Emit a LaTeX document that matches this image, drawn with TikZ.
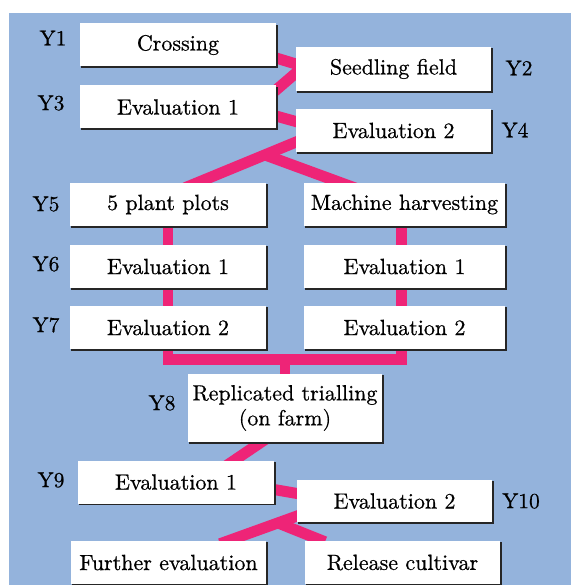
\documentclass[tikz,border=0pt]{standalone}
\usepackage{fontspec}
\setmainfont{lmroman10-regular.otf}[FakeBold=0.6]
\usetikzlibrary{calc,backgrounds}
\definecolor{bgblue}{RGB}{148,179,220}
\definecolor{linkpink}{RGB}{238,36,119}
\pgfdeclarelayer{links}
\pgfsetlayers{background,links,main}
\begin{document}
\begin{tikzpicture}[x=1pt,y=-1pt,
  box/.style={fill=white, minimum width=196pt, minimum height=43pt, inner sep=0pt, font=\fontsize{22}{25}\selectfont},
  ylab/.style={font=\fontsize{21.5}{24}\selectfont, inner sep=0pt},
  link/.style={draw=linkpink, line width=11pt},
  bar/.style={draw=linkpink, line width=10.5pt, line join=miter},
  boxshadow/.style={fill=black!85}]
\useasboundingbox (0,0) rectangle (571,585);
\begin{pgfonlayer}{background}
  \fill[bgblue] (9,13) rectangle (571,585);
\end{pgfonlayer}

\node[box] (cross) at (178,45) {Crossing};
\node[box, minimum width=195pt, minimum height=44pt] (seed) at (393.5,69) {Seedling field};
\node[box] (ev1a) at (178,107) {Evaluation 1};
\node[box, minimum width=195pt] (ev2a) at (393.5,130.5) {Evaluation 2};
\node[box] (plots) at (168,204.5) {5 plant plots};
\node[box, minimum width=201pt] (mach) at (404.5,204.5) {Machine harvesting};
\node[box] (ev1l) at (168,266.5) {Evaluation 1};
\node[box, minimum width=201pt] (ev1r) at (404.5,266.5) {Evaluation 1};
\node[box] (ev2l) at (168,327.5) {Evaluation 2};
\node[box, minimum width=201pt] (ev2r) at (404.5,327.5) {Evaluation 2};
\node[box, minimum width=194pt, minimum height=68pt, align=center] (rep) at (285,408) {Replicated trialling\\(on farm)};
\node[box] (ev1b) at (176,482) {Evaluation 1};
\node[box, minimum width=195pt, minimum height=42pt] (ev2b) at (394.5,501) {Evaluation 2};
\node[box, minimum width=195pt] (fur) at (168.5,562.5) {Further evaluation};
\node[box, minimum width=195pt] (rel) at (402.5,562.5) {Release cultivar};

\node[ylab] (y1) at (53,38) {Y1};
\node[ylab] (y2) at (519,68) {Y2};
\node[ylab] (y3) at (51,103) {Y3};
\node[ylab] (y4) at (515,130) {Y4};
\node[ylab] (y5) at (46,204) {Y5};
\node[ylab] (y6) at (46,264) {Y6};
\node[ylab] (y7) at (46,325) {Y7};
\node[ylab] (y8) at (162,403) {Y8};
\node[ylab] (y9) at (51,480) {Y9};
\node[ylab] (y10) at (521,501) {Y10};

\begin{pgfonlayer}{links}
  % top zig-zag
  \draw[link] ($(cross.east)+(-10,10)$) -- ($(seed.west)+(10,-2)$);
  \draw[link] ($(seed.west)+(10,-4.5)$) -- ($(ev1a.east)+(-10,-8.5)$);
  \draw[link] ($(ev1a.east)+(-10,6.3)$) -- ($(ev2a.west)+(10,-6.2)$);
  % split to two streams
  \coordinate (s1) at ($(ev2a.west)+(10,7.5)$);
  \coordinate (e1) at ($(plots.north)+(17,5)$);
  \coordinate (j1) at ($(s1)!0.339!(e1)$);
  \draw[link] (s1) -- (e1);
  \draw[link] (j1) -- ($(mach.north)+(-44.5,7)$);
  % columns and bracket
  \coordinate (bl) at ($(ev2l.south)+(0,10.5)$);
  \coordinate (br) at ($(ev2r.south)+(-3,10.5)$);
  \draw[bar] (plots.south) -- (bl) -- (br) -- ($(mach.south)+(-3,0)$);
  \draw[bar] (bl -| rep.north) -- (rep.north);
  % bottom zig-zag
  \draw[link] ($(rep.south)+(-15,-6)$) -- ($(ev1b.north)+(48,7)$);
  \draw[link] ($(ev1b.east)+(-10,5.8)$) -- ($(ev2b.west)+(10,-5.8)$);
  \coordinate (s2) at ($(ev2b.west)+(10,11.5)$);
  \coordinate (e2) at ($(fur.north)+(51.5,3)$);
  \coordinate (j2) at ($(s2)!0.333!(e2)$);
  \draw[link] (s2) -- (e2);
  \draw[link] (j2) -- ($(rel.north)+(-77.5,1)$);
  % box shadows
  \foreach \n in {cross,seed,ev1a,ev2a,plots,mach,ev1l,ev1r,ev2l,ev2r,rep,ev1b,ev2b,fur,rel}
    \fill[boxshadow] ($(\n.north west)+(1.5,1.5)$) rectangle ($(\n.south east)+(1.5,1.5)$);
\end{pgfonlayer}
\end{tikzpicture}
\end{document}
